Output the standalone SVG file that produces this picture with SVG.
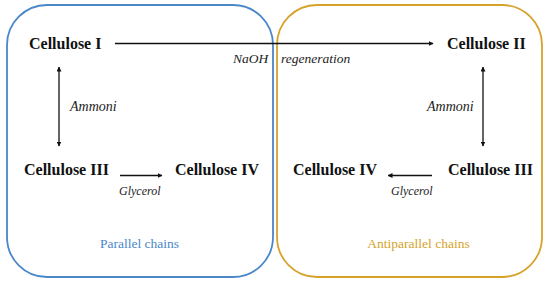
<svg xmlns="http://www.w3.org/2000/svg" width="550" height="283" viewBox="0 0 550 283">
<style>
.n{font-family:"Liberation Serif","Times New Roman",serif;font-weight:bold;font-size:16px;fill:#111}
.l{font-family:"Liberation Serif","Times New Roman",serif;font-style:italic;fill:#222}
.c{font-family:"Liberation Serif","Times New Roman",serif;font-size:13.5px}
.a{stroke:#111;stroke-width:1.3;fill:none}
</style>
<defs>
<marker id="ah" viewBox="0 0 10 10" refX="9" refY="5" markerWidth="5" markerHeight="5" markerUnits="userSpaceOnUse" orient="auto-start-reverse">
<path d="M0,0 L10,5 L0,10 z" fill="#111"/>
</marker>
</defs>
<rect width="550" height="283" fill="#fff"/>
<g id="parallel-box">
<rect x="7" y="5" width="266" height="272" rx="40" ry="40" fill="none" stroke="#4a87c9" stroke-width="1.8"/>
<text class="c" x="139.5" y="248" text-anchor="middle" fill="#4a87c9">Parallel chains</text>
</g>
<g id="antiparallel-box">
<rect x="277" y="5" width="265" height="272" rx="40" ry="40" fill="none" stroke="#d6a22a" stroke-width="1.8"/>
<text class="c" x="418.5" y="248" text-anchor="middle" fill="#d6a22a">Antiparallel chains</text>
</g>
<g id="connectors">
<line class="a" x1="115" y1="43.5" x2="433" y2="43.5" marker-end="url(#ah)"/>
<line class="a" x1="59" y1="67" x2="59" y2="146" marker-start="url(#ah)" marker-end="url(#ah)"/>
<line class="a" x1="483" y1="67" x2="483" y2="146" marker-start="url(#ah)" marker-end="url(#ah)"/>
<line class="a" x1="120" y1="175.5" x2="162" y2="175.5" marker-end="url(#ah)"/>
<line class="a" x1="432" y1="175.5" x2="388" y2="175.5" marker-end="url(#ah)"/>
<text class="l" x="233" y="63" font-size="13.5">NaOH</text>
<text class="l" x="281" y="63" font-size="13.5">regeneration</text>
<text class="l" x="70" y="111" font-size="14">Ammoni</text>
<text class="l" x="427" y="111" font-size="14">Ammoni</text>
<text class="l" x="119" y="195" font-size="12">Glycerol</text>
<text class="l" x="391" y="195" font-size="12">Glycerol</text>
</g>
<g id="cellulose-I"><text class="n" x="29" y="49">Cellulose I</text></g>
<g id="cellulose-II"><text class="n" x="447" y="49">Cellulose II</text></g>
<g id="cellulose-III-left"><text class="n" x="24" y="175">Cellulose III</text></g>
<g id="cellulose-IV-left"><text class="n" x="175" y="175">Cellulose IV</text></g>
<g id="cellulose-IV-right"><text class="n" x="293" y="175">Cellulose IV</text></g>
<g id="cellulose-III-right"><text class="n" x="448" y="175">Cellulose III</text></g>
</svg>
